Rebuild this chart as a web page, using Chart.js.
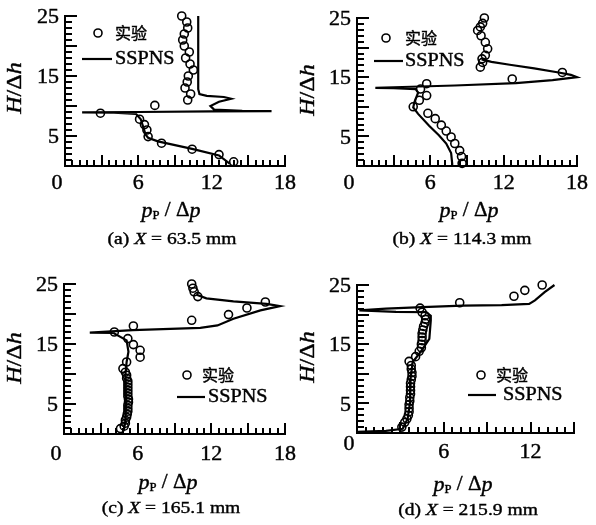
<!DOCTYPE html>
<html>
<head>
<meta charset="utf-8">
<script src="https://cdn.jsdelivr.net/npm/chart.js@4.4.1/dist/chart.umd.min.js"></script>
<style>
  html, body { margin: 0; padding: 0; background: #fff; }
  #wrap { position: relative; width: 596px; height: 525px; }
  #wrap canvas { position: absolute; }
</style>
</head>
<body>
<div id="wrap">
  <canvas id="chartA" width="298" height="262" style="left:0;top:0"></canvas>
  <canvas id="chartB" width="298" height="262" style="left:298px;top:0"></canvas>
  <canvas id="chartC" width="298" height="263" style="left:0;top:262px"></canvas>
  <canvas id="chartD" width="298" height="263" style="left:298px;top:262px"></canvas>
</div>
<script>
// tick labels
const xTickLabels = [0, 6, 12, 18];
const yTickLabels = [5, 15, 25];
const legendLabels = ['实验', 'SSPNS'];

// (a) X = 63.5 mm
const expA_x = [9.55, 9.96, 10.04, 9.76, 9.63, 9.76, 10.17, 9.87, 10.23, 10.5, 10.09, 10.0, 9.82, 10.28, 10.04,
                2.9, 7.35, 6.1, 6.5, 6.7, 6.8, 7.9, 10.4, 12.6, 13.8];
const expA_y = [25, 24, 23, 22, 21, 20, 19, 18, 17, 16, 15, 14, 13, 12, 11,
                8.8, 10.1, 7.8, 6.9, 6.0, 4.9, 3.8, 2.8, 1.9, 0.7];
const simA_x = [10.9, 10.9, 11.0, 11.6, 13.0, 13.6, 12.6, 11.9, 12.2, 14.5, 16.9, 12.0, 6.0, 1.4, 4.0, 5.8, 6.2, 6.4, 6.6, 6.8, 7.6, 10.4, 12.6, 13.5];
const simA_y = [25, 12.8, 12.0, 11.7, 11.5, 11.2, 10.7, 10.0, 9.4, 9.2, 9.15, 9.1, 9.0, 8.95, 8.9, 8.7, 7.8, 6.5, 5.2, 4.7, 4.1, 2.85, 1.75, 0.35];

// (b) X = 114.3 mm
const expB_x = [10.42, 10.28, 10.09, 9.87, 10.15, 10.5, 10.69, 10.5, 10.23, 10.28, 10.09,
                16.8, 12.7, 5.7, 5.2, 5.7, 5.1, 4.6, 5.8, 6.4, 6.9, 7.3, 7.7, 8.0, 8.4, 8.55, 8.6];
const expB_y = [25.0, 24.1, 23.5, 22.9, 22.0, 20.9, 19.8, 18.7, 18.1, 17.5, 16.7,
                15.8, 14.7, 13.9, 13.0, 11.9, 11.1, 10.0, 8.9, 8.0, 6.9, 5.9, 4.9, 3.8, 2.6, 1.6, 0.45];
const simB_x = [10.2, 11.0, 12.5, 14.5, 16.5, 17.5, 18.0, 16.0, 13.0, 8.0, 3.0, 1.5, 3.0, 4.8, 5.0, 4.7, 4.6, 5.0, 5.9, 6.7, 7.3, 7.7, 7.8];
const simB_y = [18.0, 17.6, 17.1, 16.5, 15.8, 15.4, 15.0, 14.5, 14.0, 13.6, 13.3, 13.2, 13.15, 13.0, 12.4, 10.8, 9.9, 8.8, 6.8, 5.2, 3.8, 2.2, 0.2];

// (c) X = 165.1 mm
const expC_x = [10.4, 10.5, 10.6, 10.9, 16.4, 14.9, 13.4, 10.4, 5.65, 4.1, 5.2, 5.65, 6.2, 6.2, 5.1, 4.8,
                5.0, 5.1, 5.1, 5.2, 5.2, 5.2, 5.2, 5.2, 5.2, 5.25, 5.25, 5.2, 5.2, 5.2, 5.15, 5.1, 5.0, 5.0, 4.9, 4.6];
const expC_y = [25.0, 24.3, 23.7, 22.9, 22.0, 21.0, 19.9, 18.95, 18.0, 17.0, 15.9, 14.9, 13.95, 12.8, 12.0, 10.9,
                10.3, 9.8, 9.3, 8.8, 8.3, 7.8, 7.3, 6.8, 6.3, 5.8, 5.3, 4.8, 4.3, 3.8, 3.3, 2.8, 2.3, 1.8, 1.3, 0.9];
const simC_x = [10.8, 11.6, 13.8, 16.5, 17.6, 16.0, 13.8, 12.5, 11.1, 5.6, 2.1, 4.0, 5.1, 5.25, 5.1, 5.0, 5.05, 5.0, 4.85];
const simC_y = [23.2, 22.6, 22.1, 21.7, 21.3, 20.6, 19.2, 18.1, 17.7, 17.3, 16.9, 16.85, 15.6, 13.7, 12.0, 9.8, 5.3, 2.0, 0.6];

// (d) X = 215.9 mm
const expD_x = [12.8, 11.6, 10.85, 7.1, 4.36,
                4.5, 4.7, 4.75, 4.7, 4.6, 4.55, 4.5, 4.5, 4.5, 4.45, 4.45, 4.3,
                4.05, 3.6,
                3.75, 3.75, 3.8, 3.8, 3.75, 3.7, 3.7, 3.7, 3.7, 3.65, 3.65, 3.6, 3.6, 3.6, 3.55, 3.45,
                3.3, 3.1];
const expD_y = [25.0, 24.1, 23.1, 22.0, 21.1,
                20.4, 19.8, 19.2, 18.6, 18.0, 17.4, 16.8, 16.2, 15.6, 15.0, 14.4, 13.8,
                12.9, 12.1,
                11.4, 10.8, 10.2, 9.6, 9.0, 8.4, 7.8, 7.2, 6.6, 6.0, 5.4, 4.8, 4.2, 3.6, 3.0, 2.4,
                1.8, 1.0];
const simD_x = [13.65, 12.97, 12.3, 11.9, 10.0, 7.3, 4.5, 2.0, 0.16, 2.7, 4.8, 5.1, 5.1, 5.0, 4.4, 3.85, 3.7, 3.67, 3.5, 3.16, 2.0, 0.0];
const simD_y = [25.0, 23.8, 22.4, 21.8, 21.6, 21.5, 21.25, 21.0, 20.7, 20.45, 20.4, 19.8, 19.0, 15.9, 13.7, 12.0, 9.2, 5.2, 2.4, 0.7, 0.35, 0.2];

const serif = '"Liberation Serif", "Times New Roman", serif';
const cjk = '"Noto Sans CJK SC", sans-serif';

function pts(xs, ys) {
  return xs.map((x, i) => ({ x: x, y: ys[i] }));
}

// draw a list of text runs (each with its own font) with a horizontal stretch
function drawRuns(ctx, runs, x, y, sx, align) {
  ctx.save();
  let total = 0;
  runs.forEach(r => {
    ctx.font = r.font;
    r.w = ctx.measureText(r.t).width * sx;
    total += r.w;
  });
  let cx = x;
  if (align === 'center') cx = x - total / 2;
  if (align === 'right') cx = x - total;
  ctx.fillStyle = '#000';
  ctx.strokeStyle = '#000';
  ctx.lineWidth = 0.4;
  ctx.textBaseline = 'middle';
  ctx.textAlign = 'left';
  runs.forEach(r => {
    ctx.save();
    ctx.font = r.font;
    ctx.translate(cx, y + (r.dy || 0));
    ctx.scale(sx, 1);
    ctx.fillText(r.t, 0, 0);
    ctx.strokeText(r.t, 0, 0);
    ctx.restore();
    cx += r.w;
  });
  ctx.restore();
}

const decorPlugin = {
  id: 'decor',
  afterDraw(chart, args, cfg) {
    const ctx = chart.ctx;
    const xs = chart.scales.x, ys = chart.scales.y;
    const area = chart.chartArea;

    // inward tick marks: major every 3 (x) / 5 (y), minor every 0.6 / 1
    ctx.save();
    ctx.fillStyle = '#000';
    const nx = Math.round(xs.max / 0.6);
    for (let i = 0; i <= nx; i++) {
      const px = Math.round(xs.getPixelForValue(i * 0.6));
      const len = i % 5 === 0 ? 11 : 6;
      ctx.fillRect(px - 1, area.bottom - len, 2, len);
    }
    for (let j = 0; j <= 25; j++) {
      const py = Math.round(ys.getPixelForValue(j));
      const len = j % 5 === 0 ? 12 : 7;
      ctx.fillRect(area.left, py - 1, len, 2);
    }
    ctx.restore();

    // tick labels (local coordinates)
    const tickFont = '20px ' + serif;
    xTickLabels.filter(v => v <= xs.max).forEach(v => {
      const px = xs.getPixelForValue(v) + (v === 0 ? -8 : 0);
      const py = (v === 0 ? cfg.zeroY : cfg.tickY) - cfg.oy;
      drawRuns(ctx, [{ t: String(v), font: tickFont }], px, py, 1.1, 'center');
    });
    yTickLabels.forEach(v => {
      drawRuns(ctx, [{ t: String(v), font: tickFont }], area.left - 6, ys.getPixelForValue(v) + 2, 1.1, 'right');
    });

    // the rest is placed in page coordinates
    ctx.save();
    ctx.translate(-cfg.ox, -cfg.oy);

    drawRuns(ctx, [
      { t: 'p', font: 'italic 21px ' + serif },
      { t: 'P', font: '12px ' + serif, dy: 5 },
      { t: ' / ', font: '20px ' + serif },
      { t: 'Δ', font: '20px ' + serif },
      { t: 'p', font: 'italic 21px ' + serif }
    ], cfg.xTitle[0], cfg.xTitle[1], 1.05, 'center');

    ctx.save();
    ctx.translate(cfg.yTitle[0], cfg.yTitle[1]);
    ctx.rotate(-Math.PI / 2);
    drawRuns(ctx, [
      { t: 'H', font: 'italic 20px ' + serif },
      { t: '/', font: '20px ' + serif },
      { t: 'Δ', font: '20px ' + serif },
      { t: 'h', font: 'italic 20px ' + serif }
    ], 0, 0, 1.2, 'center');
    ctx.restore();

    drawRuns(ctx, [
      { t: cfg.caption[0], font: '17px ' + serif },
      { t: 'X', font: 'italic 17px ' + serif },
      { t: cfg.caption[1], font: '17px ' + serif }
    ], cfg.capPos[0], cfg.capPos[1], 1.15, 'center');

    // legend, styled from the datasets
    const lg = cfg.legend;
    const expSet = chart.data.datasets[1];
    const simSet = chart.data.datasets[0];
    ctx.strokeStyle = expSet.borderColor;
    ctx.lineWidth = expSet.borderWidth;
    ctx.beginPath();
    ctx.arc(lg.cx, lg.cy, expSet.pointRadius, 0, Math.PI * 2);
    ctx.stroke();
    ctx.strokeStyle = simSet.borderColor;
    ctx.lineWidth = simSet.borderWidth;
    ctx.beginPath();
    ctx.moveTo(lg.lx1, lg.ly);
    ctx.lineTo(lg.lx2, lg.ly);
    ctx.stroke();
    drawRuns(ctx, [{ t: legendLabels[0], font: '16px ' + cjk }], lg.tx1, lg.cy, 1.0, 'left');
    drawRuns(ctx, [{ t: legendLabels[1], font: '18px ' + serif }], lg.tx2, lg.ly, 1.12, 'left');
    ctx.restore();
  }
};

// area is the plot box in page coordinates; the canvas sits at (ox, oy)
function makeChart(id, ox, oy, area, xMax, exp, sim, decor) {
  const canvas = document.getElementById(id);
  const W = canvas.width, H = canvas.height;
  decor.ox = ox;
  decor.oy = oy;
  new Chart(canvas, {
    type: 'scatter',
    data: {
      datasets: [
        {
          label: legendLabels[1],
          data: sim,
          showLine: true,
          borderColor: '#000',
          borderWidth: 2.2,
          pointRadius: 0,
          tension: 0,
          clip: false
        },
        {
          label: legendLabels[0],
          data: exp,
          showLine: false,
          borderColor: '#000',
          backgroundColor: 'rgba(0,0,0,0)',
          borderWidth: 1.6,
          pointRadius: 4,
          pointStyle: 'circle',
          clip: false
        }
      ]
    },
    options: {
      responsive: false,
      animation: false,
      events: [],
      layout: {
        padding: {
          left: area[0] - ox, top: area[1] - oy,
          right: ox + W - area[2], bottom: oy + H - area[3]
        }
      },
      scales: {
        x: {
          type: 'linear', min: 0, max: xMax,
          grid: { display: false },
          border: { display: true, color: '#000', width: 2 },
          ticks: { display: false },
          afterFit: s => { s.height = 0; }
        },
        y: {
          type: 'linear', min: 0, max: 25,
          grid: { display: false },
          border: { display: true, color: '#000', width: 2 },
          ticks: { display: false },
          afterFit: s => { s.width = 0; }
        }
      },
      plugins: {
        legend: { display: false },
        tooltip: { enabled: false },
        decor: decor
      }
    },
    plugins: [decorPlugin]
  });
}

makeChart('chartA', 0, 0, [65, 16, 285, 166], 18, pts(expA_x, expA_y), pts(simA_x, simA_y), {
  tickY: 184, zeroY: 184, xTitle: [171, 211], yTitle: [16, 88],
  caption: ['(a) ', ' = 63.5 mm'], capPos: [172, 240],
  legend: { cx: 98, cy: 33, tx1: 115, tx2: 115, ly: 59, lx1: 82, lx2: 112 }
});
makeChart('chartB', 298, 0, [357, 18, 577, 166], 18, pts(expB_x, expB_y), pts(simB_x, simB_y), {
  tickY: 184, zeroY: 184, xTitle: [469, 211], yTitle: [309, 90],
  caption: ['(b) ', ' = 114.3 mm'], capPos: [462, 240],
  legend: { cx: 386, cy: 38, tx1: 405, tx2: 405, ly: 61, lx1: 374, lx2: 403 }
});
makeChart('chartC', 0, 262, [64, 284, 285, 434], 18, pts(expC_x, expC_y), pts(simC_x, simC_y), {
  tickY: 455, zeroY: 455, xTitle: [168, 483], yTitle: [16, 358],
  caption: ['(c) ', ' = 165.1 mm'], capPos: [171, 509],
  legend: { cx: 187, cy: 375, tx1: 202, tx2: 208, ly: 397, lx1: 177, lx2: 205 }
});
makeChart('chartD', 298, 262, [357, 285, 574, 433], 15, pts(expD_x, expD_y), pts(simD_x, simD_y), {
  tickY: 453, zeroY: 445, xTitle: [463, 485], yTitle: [309, 357],
  caption: ['(d) ', ' = 215.9 mm'], capPos: [468, 511],
  legend: { cx: 481, cy: 375, tx1: 496, tx2: 503, ly: 395, lx1: 468, lx2: 496 }
});
</script>
</body>
</html>
